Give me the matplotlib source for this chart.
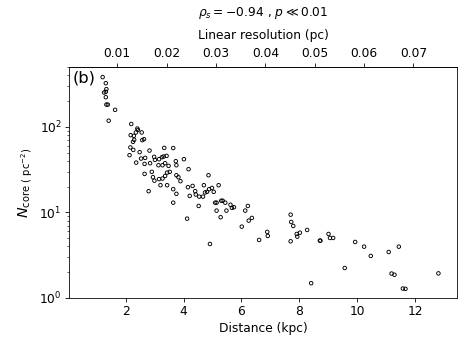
import numpy as np
import matplotlib
matplotlib.use("Agg")
import matplotlib.pyplot as plt

# distance (kpc) and core surface density (pc^-2)
distance = [1.20, 1.31, 1.33, 1.31, 1.25, 1.31, 1.33, 1.38, 1.63, 1.41,
            2.19, 2.40, 2.42, 2.35, 2.55, 2.17, 2.28, 2.29, 2.25, 2.57,
            2.63, 2.16, 2.26, 2.48, 2.82, 3.33, 3.64, 2.13, 2.36, 2.53,
            2.67, 2.98, 3.15, 3.25, 3.31, 3.41, 2.65, 2.84, 3.01, 3.13,
            3.27, 3.36, 3.48, 3.73, 3.75, 4.01, 2.65, 2.90, 2.94, 2.99,
            3.15, 3.27, 3.36, 3.43, 3.52, 3.75, 3.82, 3.89, 4.17, 3.20,
            3.43, 3.64, 3.75, 2.79, 4.15, 4.31, 4.21, 4.42, 4.54, 4.74,
            4.86, 4.88, 4.98, 5.04, 5.21, 4.70, 5.35, 3.64, 4.12, 4.52,
            4.40, 4.67, 4.81, 5.09, 5.14, 5.30, 5.44, 5.62, 5.67, 5.74,
            5.14, 5.48, 5.28, 6.22, 6.13, 6.36, 6.25, 6.01, 6.89, 6.91,
            6.61, 4.91, 7.70, 7.72, 7.79, 7.91, 7.93, 8.02, 7.70, 8.27,
            8.71, 8.73, 9.01, 9.06, 9.17, 8.41, 9.57, 9.93, 10.24, 10.47,
            11.09, 11.44, 11.19, 11.29, 11.58, 11.67, 12.81]
ncore = [381, 324, 276, 257, 252, 222, 182, 182, 158, 118,
         108, 95.5, 92, 86, 86, 80, 78.5, 70.5, 66.8, 69.9,
         71.8, 57.5, 53.8, 50.6, 52.8, 56.8, 56.5, 46.7, 38.2, 42.6,
         43.4, 44.6, 41.9, 44.2, 45.0, 45.8, 36.9, 37.6, 41.1, 35.6,
         35.6, 37.6, 35.0, 39.7, 35.6, 41.9, 28.2, 29.8, 25.8, 23.5,
         24.5, 24.9, 26.7, 29.2, 29.8, 27.2, 25.8, 23.2, 32.0, 20.8,
         20.8, 18.7, 16.5, 17.7, 19.7, 20.4, 15.6, 16.2, 15.3, 17.1,
         27.2, 18.7, 19.3, 17.4, 20.8, 20.8, 13.7, 13.0, 8.46, 11.9,
         17.7, 15.3, 17.4, 13.0, 13.0, 13.7, 13.0, 12.3, 11.3, 11.5,
         10.5, 10.5, 8.79, 11.9, 10.5, 8.62, 8.02, 6.82, 5.92, 5.31,
         4.77, 4.28, 9.42, 7.74, 6.95, 5.60, 5.21, 5.80, 4.60, 6.24,
         4.68, 4.68, 5.60, 5.03, 5.03, 1.49, 2.24, 4.52, 3.98, 3.10,
         3.45, 3.98, 1.93, 1.87, 1.29, 1.28, 1.94]

res_ticks = [0.01, 0.02, 0.03, 0.04, 0.05, 0.06, 0.07]
pc_per_kpc = 0.00586  # linear resolution per kpc of distance

fig = plt.figure(figsize=(6.4, 4.8), dpi=73.125)
ax = fig.add_axes([0.147, 0.151, 0.83, 0.658])

ax.scatter(distance, ncore, s=12, facecolors='none', edgecolors='black',
           linewidths=0.9)
ax.set_yscale('log')
ax.set_xlim(0.03, 13.46)
ax.set_ylim(1, 500)
ax.set_xticks([2, 4, 6, 8, 10, 12])
ax.tick_params(labelsize=12)
ax.set_xlabel('Distance (kpc)', fontsize=12)
ax.set_ylabel(r'$N_{\rm core\ (\ pc^{-2})}$', fontsize=14)
ax.text(0.01, 0.985, '(b)', transform=ax.transAxes, fontsize=16,
        va='top', ha='left')

top = ax.secondary_xaxis('top', functions=(lambda d: d * pc_per_kpc,
                                           lambda r: r / pc_per_kpc))
top.set_xticks(res_ticks)
top.set_xticklabels([f'{t:.2f}' for t in res_ticks])
top.tick_params(labelsize=12)
top.set_xlabel('Linear resolution (pc)', fontsize=12, labelpad=8)
ax.set_title(r'$\rho_s = -0.94$ , $p \ll 0.01$', fontsize=12, pad=13)

fig.savefig('out.png', dpi=73.125)
